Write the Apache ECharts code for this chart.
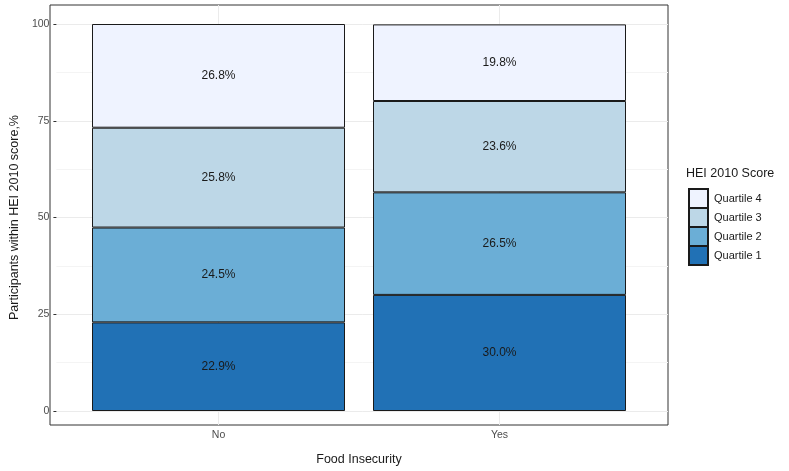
<!DOCTYPE html>
<html>
<head>
<meta charset="utf-8">
<script src="https://cdn.jsdelivr.net/npm/echarts@6/dist/echarts.min.js"></script>
<style>html,body{margin:0;padding:0;background:#fff;}#c{width:789px;height:471px;}</style>
</head>
<body>
<div id="c"></div>
<script>
const categories = ['No', 'Yes'];
const seriesNames = ['Quartile 1', 'Quartile 2', 'Quartile 3', 'Quartile 4'];
const q1 = [22.9, 30.0];
const q2 = [24.5, 26.5];
const q3 = [25.8, 23.6];
const q4 = [26.8, 19.8];
const yTicks = [0, 25, 50, 75, 100];
const colors = ['#2171b5', '#6baed6', '#bdd7e7', '#eff3ff'];

const values = [q1, q2, q3, q4];
const font = 'Liberation Sans, Arial, sans-serif';
const chart = echarts.init(document.getElementById('c'), null, {renderer: 'canvas'});

const series = seriesNames.map((name, i) => ({
  name: name,
  type: 'bar',
  xAxisIndex: 2,
  yAxisIndex: 2,
  stack: 'total',
  barWidth: 253,
  data: values[i],
  itemStyle: {color: colors[i], borderColor: '#1a1a1a', borderWidth: 1},
  label: {
    show: true,
    position: 'inside',
    color: '#1a1a1a',
    fontSize: 12,
    fontFamily: font,
    formatter: p => Number(p.value).toFixed(1) + '%'
  },
  emphasis: {disabled: true}
}));

chart.setOption({
  animation: false,
  backgroundColor: '#ffffff',
  title: {
    text: 'HEI 2010 Score',
    left: 686,
    top: 167,
    padding: 0,
    textStyle: {fontSize: 12.5, fontWeight: 'normal', color: '#1a1a1a', fontFamily: font}
  },
  legend: {
    orient: 'vertical',
    left: 688,
    top: 188,
    padding: 0,
    itemWidth: 19,
    itemHeight: 19,
    itemGap: -2,
    icon: 'rect',
    data: ['Quartile 4', 'Quartile 3', 'Quartile 2', 'Quartile 1'],
    textStyle: {fontSize: 11, color: '#1a1a1a', fontFamily: font, padding: [0, 0, 0, 1], lineHeight: 12},
    selectedMode: false
  },
  grid: [
    {left: 50, top: 5, width: 618, height: 425, show: true, borderColor: '#333333', borderWidth: 1, backgroundColor: '#ffffff', containLabel: false},
    {left: 50, top: 24, width: 618, height: 387, containLabel: false},
    {left: 78, top: 24, width: 562, height: 387, containLabel: false}
  ],
  xAxis: [
    {
      gridIndex: 0, type: 'value', min: 0.4, max: 2.6,
      axisLine: {show: false},
      axisTick: {show: true, length: 3, lineStyle: {color: '#333333'}, customValues: [1, 2]},
      axisLabel: {customValues: [1, 2], margin: 5, color: '#4d4d4d', fontSize: 10.5, fontFamily: font,
        formatter: v => categories[Math.round(v) - 1] || ''},
      splitLine: {show: true, lineStyle: {color: '#ebebeb', width: 1}},
      name: 'Food Insecurity', nameLocation: 'middle', nameGap: 28,
      nameTextStyle: {fontSize: 12.5, color: '#1a1a1a', fontFamily: font}
    },
    {
      gridIndex: 1, type: 'value', min: 0.4, max: 2.6,
      axisLine: {show: false}, axisTick: {show: false}, axisLabel: {show: false}, splitLine: {show: false}
    },
    {
      gridIndex: 2, type: 'category', data: categories,
      axisLine: {show: false}, axisTick: {show: false}, axisLabel: {show: false}, splitLine: {show: false}
    }
  ],
  yAxis: [
    {
      gridIndex: 0, type: 'value', min: -5, max: 105,
      axisLine: {show: false}, axisTick: {show: false}, axisLabel: {show: false}, splitLine: {show: false}
    },
    {
      gridIndex: 1, type: 'value', min: yTicks[0], max: yTicks[yTicks.length - 1], interval: 25,
      axisLine: {show: false},
      axisTick: {show: true, length: 3, lineStyle: {color: '#333333'}},
      axisLabel: {margin: 7, color: '#4d4d4d', fontSize: 10.5, fontFamily: font},
      splitLine: {show: true, lineStyle: {color: '#ebebeb', width: 1}},
      minorTick: {show: false, splitNumber: 2},
      minorSplitLine: {show: true, lineStyle: {color: '#f4f4f4', width: 1}},
      name: 'Participants within HEI 2010 score,%', nameLocation: 'middle', nameGap: 33,
      nameTextStyle: {fontSize: 12.5, color: '#1a1a1a', fontFamily: font}
    },
    {
      gridIndex: 2, type: 'value', min: 0, max: 100,
      axisLine: {show: false}, axisTick: {show: false}, axisLabel: {show: false}, splitLine: {show: false}
    }
  ],
  series: series
});
</script>
</body>
</html>
